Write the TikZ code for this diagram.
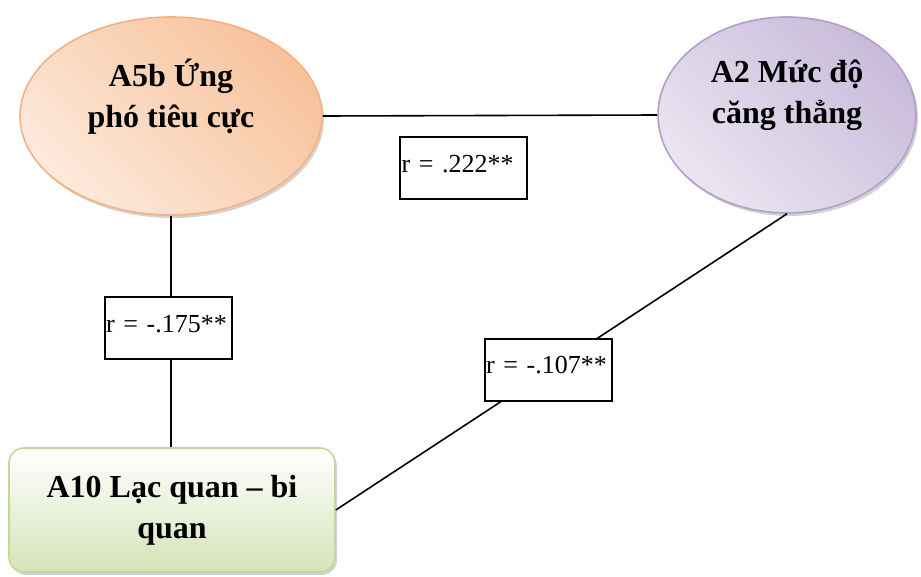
\documentclass[tikz,border=0pt]{standalone}
\usepackage{fontspec}
\setmainfont{Liberation Serif}
\usepackage{tikz}
\usetikzlibrary{positioning,shapes.geometric,shadows}
\definecolor{copeedge}{HTML}{F4B183}
\definecolor{copedark}{HTML}{F7C29B}
\definecolor{copelight}{HTML}{FDE9DB}
\definecolor{stressedge}{HTML}{B0A0CA}
\definecolor{stressdark}{HTML}{C8BBDA}
\definecolor{stresslight}{HTML}{EAE5F1}
\definecolor{optiedge}{HTML}{C3D69B}
\definecolor{optidark}{HTML}{D5E3B9}

\begin{document}
\begin{tikzpicture}[
  x=1pt, y=-1pt,
  oval/.style={ellipse, line width=1.6pt, drop shadow={shadow xshift=2pt, shadow yshift=-3pt, opacity=0.35}},
  card/.style={rectangle, rounded corners=15pt, draw=optiedge, line width=1.6pt, top color=white, bottom color=optidark, drop shadow={shadow xshift=2pt, shadow yshift=-3pt, opacity=0.35}},
  title/.style={align=center, font=\bfseries\fontsize{32}{41}\selectfont},
  stat/.style={rectangle, draw, line width=2pt, fill=white, text width=124pt, inner xsep=1.5pt, inner ysep=0pt, minimum height=62pt, align=left, text depth=9pt, font=\fontsize{26}{30}\selectfont},
  link/.style={line width=1.6pt}
]
\useasboundingbox (0,0) rectangle (921,576);

% the three scales
\node[oval, draw=copeedge, top color=copedark, bottom color=copelight, shading angle=-45, minimum width=302pt, minimum height=198pt] (cope) at (171,116) {};
\node[title, yshift=19pt] (cope-txt) at (cope.center) {A5b Ứng\\phó tiêu cực};
\node[oval, draw=stressedge, top color=stressdark, bottom color=stresslight, shading angle=-45, minimum width=258pt, minimum height=196pt] (stress) at (787,115) {};
\node[title, yshift=20pt] (stress-txt) at (stress.center) {A2 Mức độ\\căng thẳng};
\node[card, title, minimum width=326pt, minimum height=124pt] (optim) at (172,510) {A10 Lạc quan – bi\\quan};

% correlations
\draw[link] (cope.east) -- (stress.west);
\draw[link] (cope.south) -- (cope.south |- optim.north);
\draw[link] (optim.east) -- (stress.south);

\node[stat] (r-cs) at (463.5,168) {r = .222**};
\node[stat] (r-co) at (168,328) {r = -.175**};
\node[stat] (r-so) at (548,369.5) {r = -.107**};
\end{tikzpicture}
\end{document}
